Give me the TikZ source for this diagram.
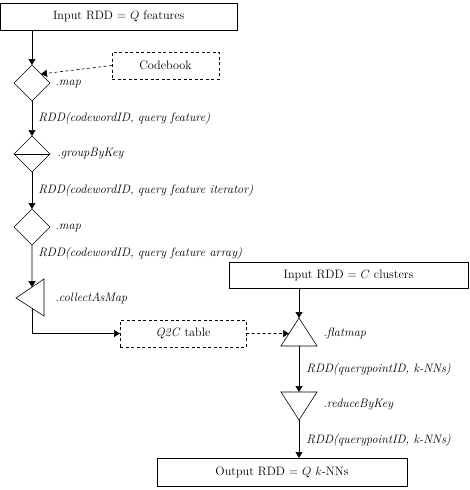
\documentclass[tikz,border=0pt]{standalone}
\usetikzlibrary{shapes.geometric,arrows.meta,calc}
\begin{document}
\begin{tikzpicture}[x=1pt,y=-1pt,line width=0.6pt,
  every node/.style={font=\fontsize{12.2}{14}\selectfont},
  box/.style={draw,rectangle,inner sep=0pt,outer sep=0pt},
  dbox/.style={box,dash pattern=on 3pt off 2.5pt},
  dia/.style={draw,diamond,minimum width=36pt,minimum height=36pt,inner sep=0pt,outer sep=0pt},
  lbl/.style={anchor=west,inner sep=0pt,font=\fontsize{12.2}{14}\selectfont\itshape},
  arr/.style={-{Triangle[length=6pt,width=7pt]}},
  darr/.style={arr,dash pattern=on 3pt off 2.5pt}]
\useasboundingbox (0,0) rectangle (470,490);
% left chain
\node[box,minimum width=236.5pt,minimum height=27pt] (in1) at (118.75,16.5) {Input RDD $=$ $Q$ features};
\node[dia] (d1) at (32,83) {};
\node[dbox,minimum width=107pt,minimum height=27pt] (cb) at (165.5,65.5) {Codebook};
\node[lbl] (l1) at (55,84) {.map};
\node[lbl] (r1) at (38,118) {RDD(codewordID, query feature)};
\node[dia] (d2) at (32,154) {};
\node[lbl] (l2) at (57,154) {.groupByKey};
\node[lbl] (r2) at (38,190) {RDD(codewordID, query feature iterator)};
\node[dia] (d3) at (32,227) {};
\node[lbl] (l3) at (55,228) {.map};
\node[lbl] (r3) at (38,253) {RDD(codewordID, query feature array)};
% collectAsMap triangle
\coordinate (cl) at (16,298);
\coordinate (ct) at (44,279);
\coordinate (cbt) at (44,316);
\draw (cl) -- (ct) -- (cbt) -- cycle;
\coordinate (cin) at ($(cl)!0.5714!(ct)$);
\coordinate (cout) at ($(cl)!0.5714!(cbt)$);
\node[lbl] (l4) at (55,298) {.collectAsMap};
\node[dbox,minimum width=126pt,minimum height=27pt] (q2c) at (183,333.5) {\textit{Q2C} table};
% right chain
\node[box,minimum width=239pt,minimum height=26pt] (in2) at (348.5,275) {Input RDD $=$ $C$ clusters};
\coordinate (fa) at (299,318);
\coordinate (fl) at (281,346);
\coordinate (fr) at (317,346);
\draw (fa) -- (fl) -- (fr) -- cycle;
\coordinate (fb) at ($(fl)!0.5!(fr)$);
\coordinate (fin) at ($(fa)!0.554!(fl)$);
\node[lbl] (l5) at (323,333) {.flatmap};
\node[lbl] (r4) at (306,369) {RDD(querypointID, k-NNs)};
\coordinate (rl) at (281,392);
\coordinate (rr) at (317,392);
\coordinate (ra) at (299,420);
\draw (rl) -- (rr) -- (ra) -- cycle;
\coordinate (rt) at ($(rl)!0.5!(rr)$);
\node[lbl] (l6) at (323,405) {.reduceByKey};
\node[lbl] (r5) at (306,440) {RDD(querypointID, k-NNs)};
\node[box,minimum width=250pt,minimum height=28pt] (out) at (282,472) {Output RDD $=$ $Q$ $k$-NNs};
% connectors
\draw[arr] (in1.south -| d1) -- (d1.north);
\draw[darr] (cb.west) -- (d1.north east);
\draw[arr] (d1.south) -- (d2.north);
\draw (d2.west) -- (d2.east);
\draw[arr] (d2.south) -- (d3.north);
\draw[arr] (d3.south) -- (cin);
\draw[arr] (cout) |- (q2c.west);
\draw[darr] (q2c.east) -- (fin);
\draw[arr] (in2.south -| fa) -- (fa);
\draw[arr] (fb) -- (rt);
\draw[arr] (ra) -- (ra |- out.north);
\end{tikzpicture}
\end{document}
